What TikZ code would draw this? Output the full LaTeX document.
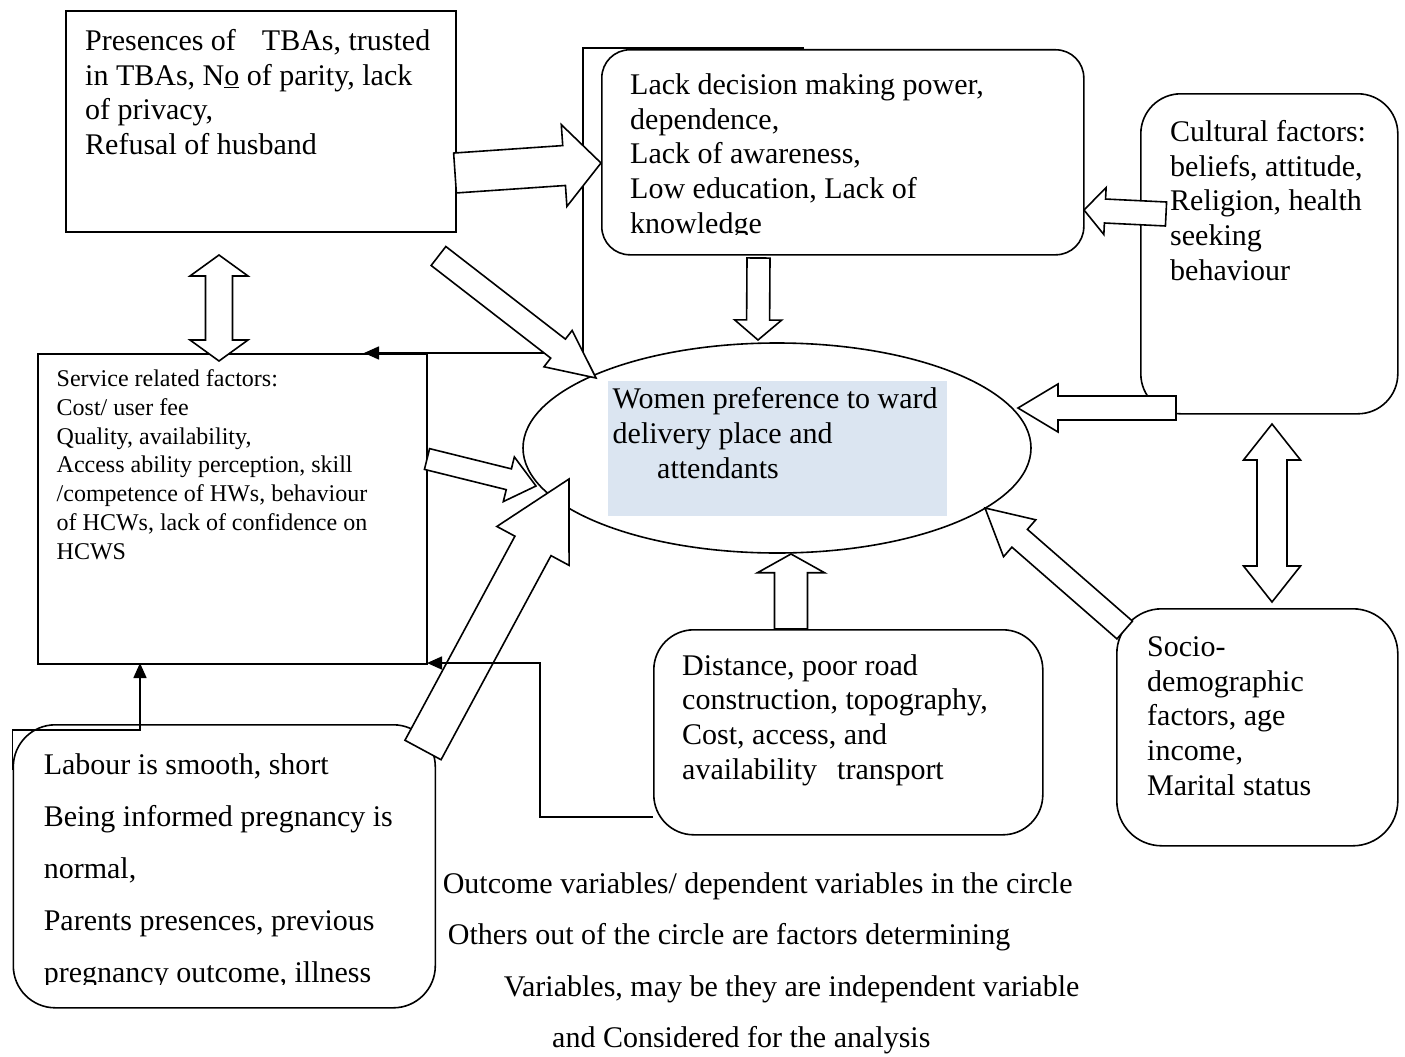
\documentclass[tikz,border=0pt]{standalone}
\usepackage{fontspec}
\setmainfont{Liberation Serif}
\usetikzlibrary{calc,shapes.geometric,arrows.meta}
\definecolor{hlblue}{RGB}{219,229,241}
\tikzset{
  lw/.style={line width=1.6pt},
  sqbox/.style={draw, lw, rectangle, anchor=north west, inner sep=0pt},
  rbox/.style={draw, lw, rectangle, rounded corners=#1, anchor=north west, inner sep=0pt},
  blk/.style={draw, lw, fill=white, line join=miter},
  conn/.style={lw, -{Triangle[length=15pt,width=13pt]}},
  % anchored at the baseline of the LAST line
  bigtxt/.style={font=\fontsize{30}{34.6}\selectfont, inner sep=0pt, align=left, anchor=base west},
  smalltxt/.style={font=\fontsize{24}{28.7}\selectfont, inner sep=0pt, align=left, anchor=base west},
  spaced/.style={font=\fontsize{30}{52}\selectfont, inner sep=0pt, align=left, anchor=base west},
}
% block arrow: tail, tip, shaft half width, head half width, head length
\newcommand\blockarr[5]{%
  \coordinate (bah) at ($(#2)!#5pt!(#1)$);
  \draw[blk] ($(#1)!#3pt!90:(#2)$) -- ($(bah)!#3pt!90:(#2)$) -- ($(bah)!#4pt!90:(#2)$) -- (#2)
    -- ($(bah)!#4pt!-90:(#2)$) -- ($(bah)!#3pt!-90:(#2)$) -- ($(#1)!#3pt!-90:(#2)$) -- cycle;
}
% double block arrow: end A, end B, shaft half width, head half width, head length
\newcommand\dblarr[5]{%
  \coordinate (dah) at ($(#1)!#5pt!(#2)$);
  \coordinate (dbh) at ($(#2)!#5pt!(#1)$);
  \draw[blk] (#1) -- ($(dah)!#4pt!90:(#2)$) -- ($(dah)!#3pt!90:(#2)$) -- ($(dbh)!#3pt!90:(#2)$)
    -- ($(dbh)!#4pt!90:(#2)$) -- (#2) -- ($(dbh)!#4pt!-90:(#2)$) -- ($(dbh)!#3pt!-90:(#2)$)
    -- ($(dah)!#3pt!-90:(#2)$) -- ($(dah)!#4pt!-90:(#2)$) -- cycle;
}
\begin{document}
\begin{tikzpicture}[x=1pt,y=1pt]
\useasboundingbox (0,0) rectangle (1405,-1057);
\fill[white] (0,0) rectangle (1405,-1057);

% ---------- boxes ----------
\node[sqbox, minimum width=390, minimum height=221] (tba) at (65,-10) {};
\node[rbox=28pt, minimum width=482, minimum height=205] (mid) at (601,-49) {};
\node[rbox=40pt, minimum width=257, minimum height=320] (cult) at (1140,-93) {};
\node[sqbox, minimum width=389, minimum height=310] (serv) at (37,-353) {};
\node[rbox=42pt, minimum width=422, minimum height=283] (lab) at (12.5,-724) {};
\node[rbox=40pt, minimum width=389, minimum height=205] (dist) at (653,-629) {};
\node[rbox=45pt, minimum width=281, minimum height=237] (socio) at (1116,-608) {};

% ---------- central ellipse ----------
\node[draw, lw, ellipse, minimum width=508, minimum height=210, inner sep=0pt] (ell) at (777,-448) {};
\fill[hlblue] (608,-381) rectangle (947,-516);

% ---------- texts (positions = baseline of last line) ----------
\node[bigtxt] (ttba) at (85,-154.5) {Presences of\hspace{26pt}TBAs, trusted\\in TBAs, N\underline{o} of parity, lack\\of privacy,\\Refusal of husband};
\begin{scope}
  \clip (595,-40) rectangle (1090,-234.5);
  \node[bigtxt] (tmid) at (630,-233) {Lack decision making power,\\dependence,\\Lack of awareness,\\Low education, Lack of\\knowledge};
\end{scope}
\node[bigtxt] (tcult) at (1170,-280) {Cultural factors:\\beliefs, attitude,\\Religion, health\\seeking\\behaviour};
\node[smalltxt] (tserv) at (56.5,-559) {Service related factors:\\Cost/ user fee\\Quality, availability,\\Access ability perception, skill\\/competence of HWs, behaviour\\of HCWs, lack of confidence on\\HCWS};
\node[bigtxt] (tell) at (612.5,-478) {Women preference to ward\\delivery place and\\\hspace{44.5pt}attendants};
\begin{scope}
  \clip (5,-700) rectangle (440,-984);
  \node[spaced] (tlab) at (43.6,-982.5) {Labour is smooth, short\\Being informed pregnancy is\\normal,\\Parents presences, previous\\pregnancy outcome, illness};
\end{scope}
\node[bigtxt] (tdist) at (682,-779) {Distance, poor road\\construction, topography,\\Cost, access, and\\availability\hspace{20pt}transport};
\node[bigtxt] (tsocio) at (1147,-795) {Socio-\\demographic\\factors, age\\income,\\Marital status};

\node[bigtxt] (note1) at (442.6,-893) {Outcome variables/ dependent variables in the circle};
\node[bigtxt] (note2) at (447.7,-944) {Others out of the circle are factors determining};
\node[bigtxt] (note3) at (503.6,-996) {Variables, may be they are independent variable};
\node[bigtxt] (note4) at (552,-1047) {and Considered for the analysis};

% ---------- elbow connector from the top box to the service box ----------
\coordinate (c1s) at (804,-48);
\coordinate (c1a) at (583,-48);
\coordinate (c1b) at (583,-353);
\coordinate (c1e) at (364,-353);
\draw[conn] (c1s) -- (c1a) -- (c1b) -- (c1e);

% ---------- block arrows ----------
\coordinate (a1t) at (455,-173);   \coordinate (a1h) at (601,-163);
\coordinate (a2t) at (438.5,-256); \coordinate (a2h) at (596,-378);
\coordinate (a3t) at (758.5,-258); \coordinate (a3h) at (758,-340);
\coordinate (a4t) at (1166,-214);  \coordinate (a4h) at (1084,-210);
\coordinate (a5t) at (1176,-408);  \coordinate (a5h) at (1018,-408);
\coordinate (a6a) at (219,-255);   \coordinate (a6b) at (219,-361);
\coordinate (a7a) at (1272,-424);  \coordinate (a7b) at (1272,-602);
\coordinate (a8t) at (1124.7,-630);\coordinate (a8h) at (985,-508);
\coordinate (a9t) at (791,-629);   \coordinate (a9h) at (791,-554);
\coordinate (a10t) at (427,-459);  \coordinate (a10h) at (536,-486);
\coordinate (a11t) at (423,-750);  \coordinate (a11h) at (569,-479);

\blockarr{a1t}{a1h}{20}{41}{37}
\blockarr{a2t}{a2h}{12}{23}{48}
\blockarr{a3t}{a3h}{11.5}{23.5}{20}
\blockarr{a4t}{a4h}{12}{23.5}{21}
\blockarr{a5t}{a5h}{12}{24}{40}
\dblarr{a6a}{a6b}{13.5}{29}{21}
\dblarr{a7a}{a7b}{15}{28.5}{36}
\blockarr{a8t}{a8h}{11.8}{24.5}{46}
\blockarr{a9t}{a9h}{16.5}{33.5}{18.7}
\blockarr{a10t}{a10h}{10.7}{23}{28}
\blockarr{a11t}{a11h}{20.5}{41}{76}

% ---------- remaining elbow connectors ----------
\coordinate (c2s) at (653,-817);
\coordinate (c2a) at (540,-817);
\coordinate (c2b) at (540,-663);
\coordinate (c2e) at (427,-663);
\draw[conn] (c2s) -- (c2a) -- (c2b) -- (c2e);

\coordinate (c3s) at (12.5,-770);
\coordinate (c3a) at (12.5,-730);
\coordinate (c3b) at (140,-730);
\coordinate (c3e) at (140,-663);
\draw[conn] (c3s) -- (c3a) -- (c3b) -- (c3e);
\end{tikzpicture}
\end{document}
